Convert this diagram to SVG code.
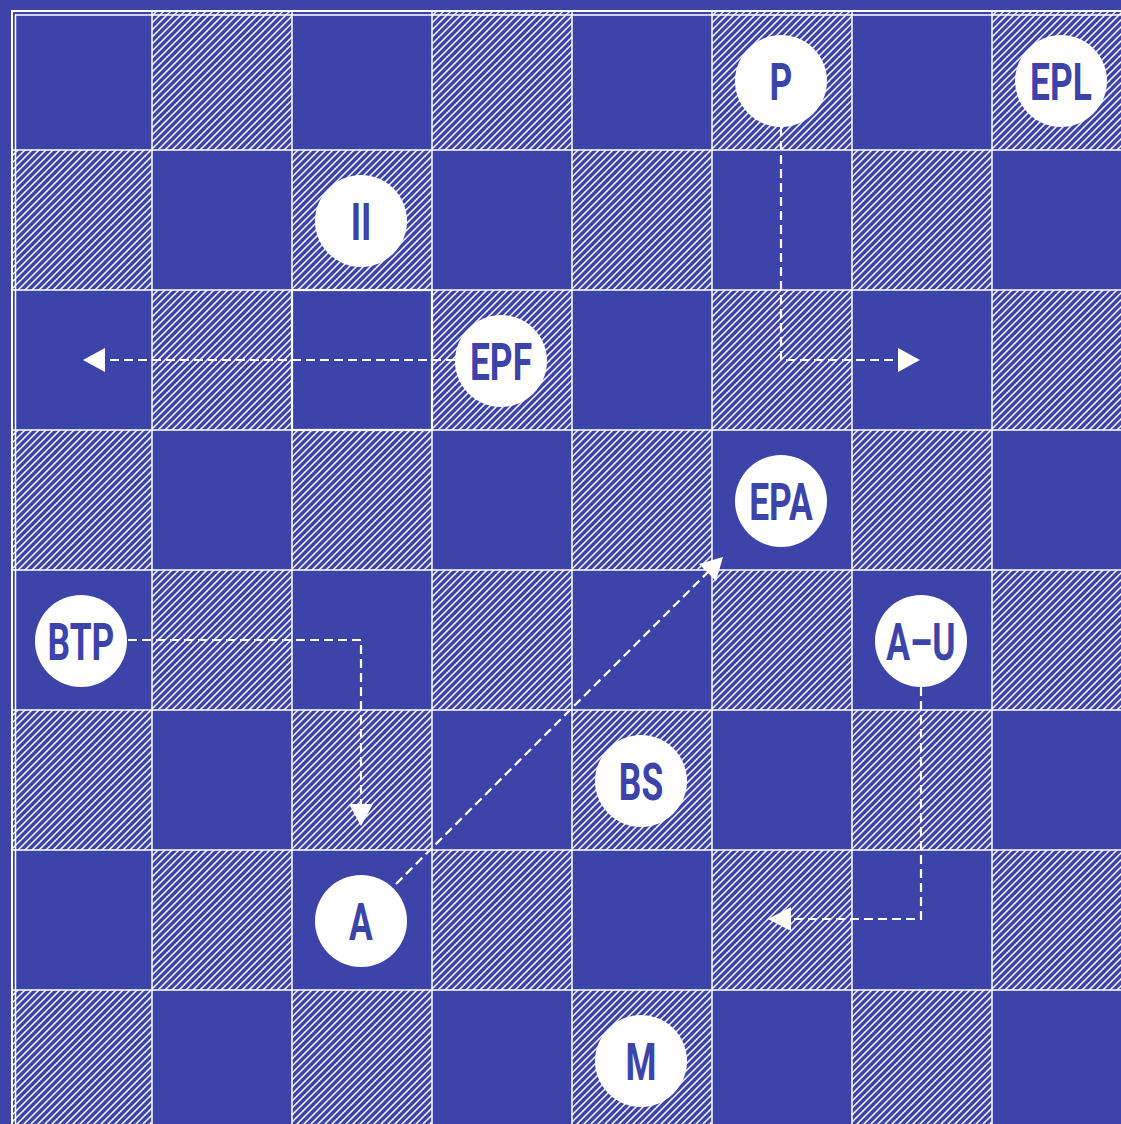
<svg xmlns="http://www.w3.org/2000/svg" width="1121" height="1124" viewBox="0 0 1121 1124">
<defs>
<pattern id="hatch" patternUnits="userSpaceOnUse" width="7" height="7">
<path d="M-1,1 L1,-1 M0,7 L7,0 M6,8 L8,6" stroke="#ffffff" stroke-width="1.5"/>
</pattern>
<style>
.bg{fill:#3D44A9}
.h{fill:url(#hatch)}
.grid{stroke:#ffffff;stroke-width:1.5;fill:none}
.node circle{fill:#ffffff}
.node text{font-family:Roboto,"Liberation Sans",sans-serif;font-weight:700;font-size:52px;fill:#3D44A9;text-anchor:middle}
.conn{stroke:#ffffff;stroke-width:2.2;fill:none;stroke-dasharray:9 5}
.ah{fill:#ffffff}
</style>
</defs>
<rect class="bg" x="0" y="0" width="1121" height="1124"/>
<g id="board">
<rect class="h" x="152" y="10" width="140" height="140"/>
<rect class="h" x="432" y="10" width="140" height="140"/>
<rect class="h" x="712" y="10" width="140" height="140"/>
<rect class="h" x="992" y="10" width="140" height="140"/>
<rect class="h" x="12" y="150" width="140" height="140"/>
<rect class="h" x="292" y="150" width="140" height="140"/>
<rect class="h" x="572" y="150" width="140" height="140"/>
<rect class="h" x="852" y="150" width="140" height="140"/>
<rect class="h" x="152" y="290" width="140" height="140"/>
<rect class="h" x="432" y="290" width="140" height="140"/>
<rect class="h" x="712" y="290" width="140" height="140"/>
<rect class="h" x="992" y="290" width="140" height="140"/>
<rect class="h" x="12" y="430" width="140" height="140"/>
<rect class="h" x="292" y="430" width="140" height="140"/>
<rect class="h" x="572" y="430" width="140" height="140"/>
<rect class="h" x="852" y="430" width="140" height="140"/>
<rect class="h" x="152" y="570" width="140" height="140"/>
<rect class="h" x="432" y="570" width="140" height="140"/>
<rect class="h" x="712" y="570" width="140" height="140"/>
<rect class="h" x="992" y="570" width="140" height="140"/>
<rect class="h" x="12" y="710" width="140" height="140"/>
<rect class="h" x="292" y="710" width="140" height="140"/>
<rect class="h" x="572" y="710" width="140" height="140"/>
<rect class="h" x="852" y="710" width="140" height="140"/>
<rect class="h" x="152" y="850" width="140" height="140"/>
<rect class="h" x="432" y="850" width="140" height="140"/>
<rect class="h" x="712" y="850" width="140" height="140"/>
<rect class="h" x="992" y="850" width="140" height="140"/>
<rect class="h" x="12" y="990" width="140" height="140"/>
<rect class="h" x="292" y="990" width="140" height="140"/>
<rect class="h" x="572" y="990" width="140" height="140"/>
<rect class="h" x="852" y="990" width="140" height="140"/>
<path class="grid" d="M152,11 V1124 M292,11 V1124 M432,11 V1124 M572,11 V1124 M712,11 V1124 M852,11 V1124 M992,11 V1124 M12,150 H1121 M12,290 H1121 M12,430 H1121 M12,570 H1121 M12,710 H1121 M12,850 H1121 M12,990 H1121"/>
<rect x="12" y="11" width="1200" height="1200" fill="none" stroke="#ffffff" stroke-width="2"/>
<rect x="15.5" y="15" width="1200" height="1200" fill="none" stroke="#ffffff" stroke-width="1.5"/>
<rect x="292" y="290" width="140" height="140" fill="none" stroke="#ffffff" stroke-width="2.2"/>
</g>
<g id="connectors">
<path class="conn" d="M455,360 H104"/>
<polygon class="ah" points="83,360 105,348 105,372"/>
<path class="conn" d="M781,127 V360 H899"/>
<polygon class="ah" points="920,360 898,348 898,372"/>
<path class="conn" d="M128,640 H361 V805"/>
<polygon class="ah" points="361,826 349,804 373,804"/>
<path class="conn" d="M396,884 L709,571"/>
<polygon class="ah" points="723,557 716,581 699,564"/>
<path class="conn" d="M921,687 V919 H790"/>
<polygon class="ah" points="768,919 791,907 791,931"/>
</g>
<g id="node-P" class="node"><circle cx="781" cy="81" r="46"/><text transform="translate(781,100) scale(0.68,1)">P</text></g>
<g id="node-EPL" class="node"><circle cx="1061" cy="81" r="46"/><text transform="translate(1061,100) scale(0.68,1)">EPL</text></g>
<g id="node-II" class="node"><circle cx="361" cy="221" r="46"/><text transform="translate(361,240) scale(0.68,1)">II</text></g>
<g id="node-EPF" class="node"><circle cx="501" cy="361" r="46"/><text transform="translate(501,380) scale(0.68,1)">EPF</text></g>
<g id="node-EPA" class="node"><circle cx="781" cy="501" r="46"/><text transform="translate(781,520) scale(0.68,1)">EPA</text></g>
<g id="node-BTP" class="node"><circle cx="81" cy="641" r="46"/><text transform="translate(81,660) scale(0.68,1)">BTP</text></g>
<g id="node-AU" class="node"><circle cx="921" cy="641" r="46"/><text transform="translate(921,660) scale(0.68,1)">A–U</text></g>
<g id="node-BS" class="node"><circle cx="641" cy="781" r="46"/><text transform="translate(641,800) scale(0.68,1)">BS</text></g>
<g id="node-A" class="node"><circle cx="361" cy="921" r="46"/><text transform="translate(361,940) scale(0.68,1)">A</text></g>
<g id="node-M" class="node"><circle cx="641" cy="1061" r="46"/><text transform="translate(641,1080) scale(0.68,1)">M</text></g>
</svg>
